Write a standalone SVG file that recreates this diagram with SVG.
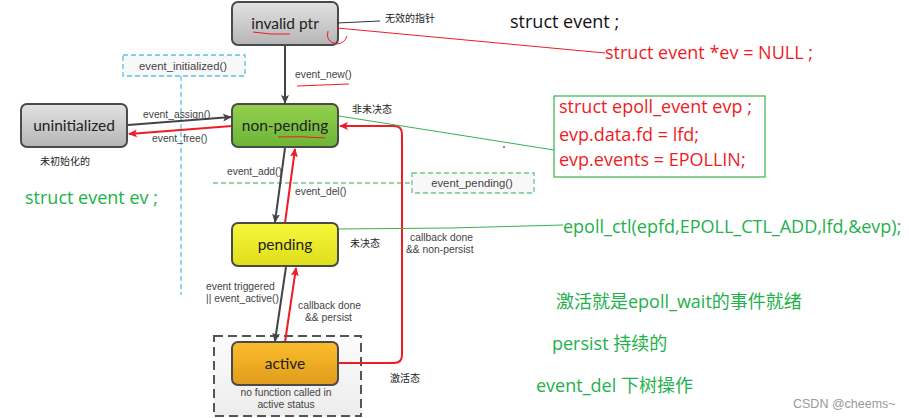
<svg xmlns="http://www.w3.org/2000/svg" width="909" height="418" viewBox="0 0 909 418">
<style>
.node{stroke:#4a4a4a;stroke-width:2}
.nt{font-family:Lato,"Open Sans",sans-serif;font-size:15.5px;fill:#222;text-anchor:middle}
.lb{font-family:"Liberation Sans",Arial,sans-serif;font-size:10.3px;fill:#444}
.bl{font-family:"Liberation Sans",Arial,sans-serif;font-size:11.3px;fill:#444;text-anchor:middle}
.cn{font-family:"Noto Sans CJK SC",sans-serif;font-size:10px;fill:#222}
.big{font-family:"Open Sans","Noto Sans","Noto Sans CJK SC",sans-serif;font-size:18px}
.dk{stroke:#444;stroke-width:2;fill:none}
.rd{stroke:#ee1c25;stroke-width:2;fill:none}
</style>
<defs>
<linearGradient id="gGray" x1="0" y1="0" x2="0" y2="1"><stop offset="0" stop-color="#e2e2e2"/><stop offset="1" stop-color="#b5b5b5"/></linearGradient>
<linearGradient id="gGreen" x1="0" y1="0" x2="0" y2="1"><stop offset="0" stop-color="#94d04e"/><stop offset="1" stop-color="#6cb536"/></linearGradient>
<linearGradient id="gYellow" x1="0" y1="0" x2="0" y2="1"><stop offset="0" stop-color="#f7f73c"/><stop offset="1" stop-color="#dede1c"/></linearGradient>
<linearGradient id="gOrange" x1="0" y1="0" x2="0" y2="1"><stop offset="0" stop-color="#fbbd2c"/><stop offset="1" stop-color="#e09c1c"/></linearGradient>
<linearGradient id="gBox" x1="0" y1="0" x2="0" y2="1"><stop offset="0" stop-color="#fcfcfc"/><stop offset="1" stop-color="#ececec"/></linearGradient>
<marker id="aD" markerWidth="10" markerHeight="10" refX="8" refY="5" orient="auto" markerUnits="userSpaceOnUse"><path d="M0,1 L9,5 L0,9 L2,5 Z" fill="#444"/></marker>
<marker id="aR" markerWidth="10" markerHeight="10" refX="8" refY="5" orient="auto" markerUnits="userSpaceOnUse"><path d="M0,1 L9,5 L0,9 L2,5 Z" fill="#ee1c25"/></marker>
</defs>
<rect width="909" height="418" fill="#fff"/>

<g id="activeFrame">
<rect x="214" y="336" width="147" height="80" fill="url(#gBox)" stroke="#555" stroke-width="2" stroke-dasharray="9,5"/>
<text class="lb" x="286" y="396" text-anchor="middle" font-size="10.5">no function called in</text>
<text class="lb" x="286" y="408" text-anchor="middle" font-size="10.5">active status</text>
</g>
<g id="initBox">
<rect x="123" y="55" width="122" height="21" fill="#f8f8f8" stroke="#5bc0e8" stroke-width="1.3" stroke-dasharray="5,3"/>
<text class="bl" x="183" y="69.5">event_initialized()</text>
<line x1="181" y1="76" x2="181" y2="295" stroke="#5bc0e8" stroke-width="1.3" stroke-dasharray="5,3"/>
</g>
<g id="pendingBox">
<line x1="213" y1="183" x2="412" y2="183" stroke="#6cc68a" stroke-width="1.3" stroke-dasharray="5,3"/>
<rect x="412" y="173" width="122" height="20" fill="#f8f8f8" stroke="#6cc68a" stroke-width="1.3" stroke-dasharray="5,3"/>
<text class="bl" x="472" y="187">event_pending()</text>
</g>

<g id="connectors">
<line class="dk" x1="285" y1="46" x2="285" y2="103" marker-end="url(#aD)"/>
<line class="dk" x1="128" y1="125" x2="231" y2="117" marker-end="url(#aD)"/>
<line class="rd" x1="232" y1="126" x2="129" y2="134" marker-end="url(#aR)"/>
<line class="dk" x1="285" y1="148" x2="275" y2="222" marker-end="url(#aD)"/>
<line class="rd" x1="285" y1="223" x2="295" y2="149" marker-end="url(#aR)"/>
<line class="dk" x1="286" y1="267" x2="275" y2="341" marker-end="url(#aD)"/>
<line class="rd" x1="285" y1="342" x2="296" y2="268" marker-end="url(#aR)"/>
<path class="rd" d="M339,363 L394,363 Q402,363 402,355 L402,134 Q402,126 394,126 L340,126" marker-end="url(#aR)"/>
<text class="lb" x="143" y="118">event_assign()</text>
<text class="lb" x="152" y="142">event_free()</text>
<text class="lb" x="295" y="78">event_new()</text>
<text class="lb" x="227" y="175">event_add()</text>
<text class="lb" x="295" y="195">event_del()</text>
<text class="lb" x="206" y="290">event triggered</text>
<text class="lb" x="206" y="302">|| event_active()</text>
<text class="lb" x="298" y="309">callback done</text>
<text class="lb" x="305" y="321">&amp;&amp; persist</text>
<text class="lb" x="410" y="241">callback done</text>
<text class="lb" x="406" y="253">&amp;&amp; non-persist</text>
</g>

<g id="invalid">
<rect class="node" x="232" y="2" width="106" height="43" rx="6" fill="url(#gGray)"/>
<text class="nt" x="285" y="29">invalid ptr</text>
</g>
<g id="uninitialized">
<rect class="node" x="21" y="104" width="106" height="43" rx="6" fill="url(#gGray)"/>
<text class="nt" x="74" y="131">uninitialized</text>
</g>
<g id="nonpending">
<rect class="node" x="232" y="104" width="106" height="43" rx="6" fill="url(#gGreen)"/>
<text class="nt" x="285" y="131">non-pending</text>
</g>
<g id="pending">
<rect class="node" x="232" y="223" width="106" height="43" rx="6" fill="url(#gYellow)"/>
<text class="nt" x="285" y="250">pending</text>
</g>
<g id="active">
<rect class="node" x="232" y="342" width="106" height="43" rx="6" fill="url(#gOrange)"/>
<text class="nt" x="285" y="369">active</text>
</g>

<g id="cnLabels">
<line x1="337" y1="23" x2="380" y2="21" stroke="#333" stroke-width="1"/>
<text class="cn" x="385" y="22">无效的指针</text>
<text class="cn" x="352" y="113">非未决态</text>
<text class="cn" x="40" y="165">未初始化的</text>
<text class="cn" x="350" y="247">未决态</text>
<text class="cn" x="390" y="382">激活态</text>
</g>

<g id="annotations">
<path d="M253,32 Q270,35 290,34" stroke="#ee1c25" stroke-width="1" fill="none"/>
<path d="M328,31 Q325,42 337,44 Q345,43 347,36" stroke="#ee1c25" stroke-width="1" fill="none"/>
<path d="M278,137 Q300,136 325,138" stroke="#ee1c25" stroke-width="1" fill="none"/>
<path d="M297,86 L349,84" stroke="#ee1c25" stroke-width="1" fill="none"/>
<line x1="337" y1="28" x2="605" y2="53" stroke="#ee1c25" stroke-width="1"/>
<line x1="339" y1="116" x2="554" y2="150" stroke="#37b24d" stroke-width="1"/>
<circle cx="504" cy="147" r="0.8" fill="#000"/>
<path d="M339,229 L450,228 L563,225" stroke="#37b24d" stroke-width="1" fill="none"/>
<text class="big" x="510" y="28" fill="#111">struct event ;</text>
<text class="big" x="605" y="59" fill="#ee1c25">struct event *ev = NULL ;</text>
<rect x="554" y="96" width="211" height="81" fill="none" stroke="#37b24d" stroke-width="1.2"/>
<text class="big" x="559" y="113" fill="#ee1c25">struct epoll_event evp ;</text>
<text class="big" x="559" y="141" fill="#ee1c25">evp.data.fd = lfd;</text>
<text class="big" x="559" y="166" fill="#ee1c25">evp.events = EPOLLIN;</text>
<text class="big" x="563" y="233" fill="#22b24c">epoll_ctl(epfd,EPOLL_CTL_ADD,lfd,&amp;evp);</text>
<text class="big" x="25" y="204" fill="#22b24c">struct event ev ;</text>
<text class="big" x="556" y="308" fill="#22b24c">激活就是epoll_wait的事件就绪</text>
<text class="big" x="552" y="350" fill="#22b24c">persist 持续的</text>
<text class="big" x="536" y="392" fill="#22b24c">event_del 下树操作</text>
<text x="793" y="408" font-family="'Liberation Sans',sans-serif" font-size="12.5" fill="#999">CSDN @cheems~</text>
</g>
</svg>
